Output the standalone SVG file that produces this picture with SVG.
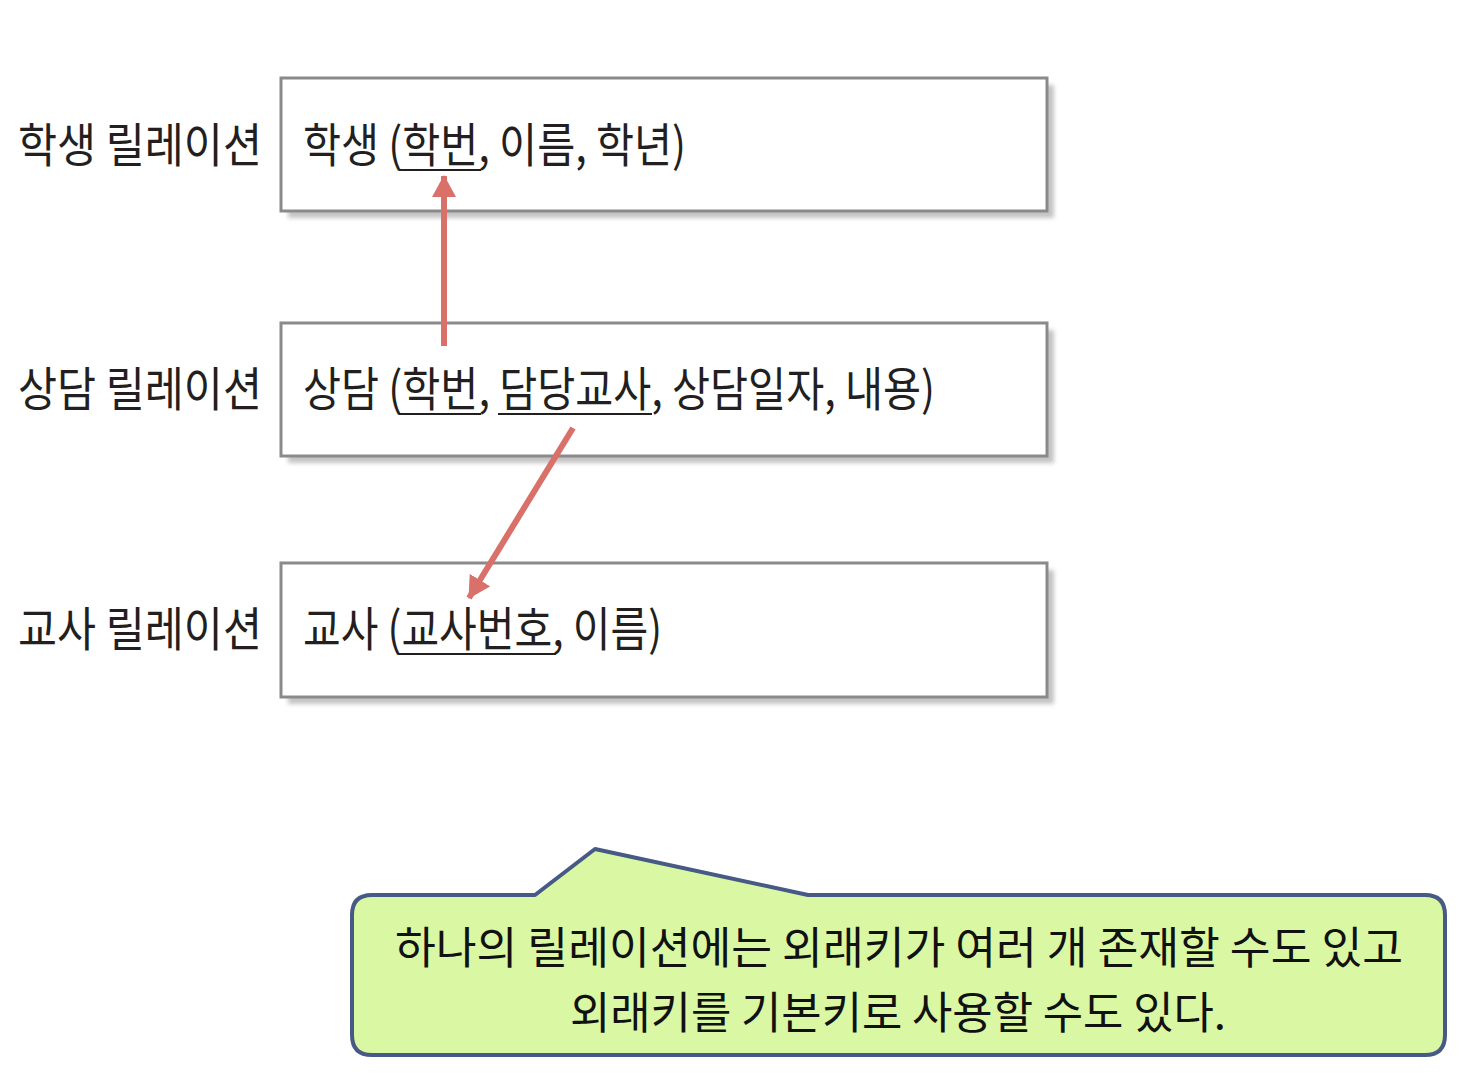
<svg xmlns="http://www.w3.org/2000/svg" width="1476" height="1090" viewBox="0 0 1476 1090">
<style>
.lbl{font-family:"Noto Sans CJK KR","Noto Sans",sans-serif;font-size:47px;fill:#231f20}
.box{fill:#fff;stroke:#8a8a8a;stroke-width:3}
.shadow{fill:#c4c4c4}
.ul{stroke:#231f20;stroke-width:2}
.conn{stroke:#d9706a;stroke-width:6;fill:none}
.note{font-family:"Noto Sans CJK KR","Noto Sans",sans-serif;font-size:44px;fill:#111}
</style>
<defs>
<marker id="ah" viewBox="0 0 22 24" refX="21" refY="12" markerWidth="22" markerHeight="24" orient="auto" markerUnits="userSpaceOnUse">
<path d="M0,0 L22,12 L0,24 z" fill="#d9706a"/>
</marker>
<filter id="blur" x="-5%" y="-10%" width="110%" height="120%"><feGaussianBlur stdDeviation="2"/></filter>
</defs>
<rect width="1476" height="1090" fill="#fff"/>

<g id="student">
<text class="lbl" x="18" y="162" textLength="244" lengthAdjust="spacingAndGlyphs">학생 릴레이션</text>
<rect class="shadow" x="288" y="85" width="766" height="133" filter="url(#blur)"/>
<rect class="box" x="281" y="78" width="766" height="133"/>
<text class="lbl" x="303" y="162" textLength="383" lengthAdjust="spacingAndGlyphs">학생 (학번, 이름, 학년)</text>
<line class="ul" x1="399" y1="170" x2="481" y2="170"/>
</g>

<g id="counsel">
<text class="lbl" x="18" y="406" textLength="244" lengthAdjust="spacingAndGlyphs">상담 릴레이션</text>
<rect class="shadow" x="288" y="330" width="766" height="133" filter="url(#blur)"/>
<rect class="box" x="281" y="323" width="766" height="133"/>
<text class="lbl" x="303" y="406" textLength="632" lengthAdjust="spacingAndGlyphs">상담 (학번, 담당교사, 상담일자, 내용)</text>
<line class="ul" x1="399" y1="414" x2="481" y2="414"/>
<line class="ul" x1="498" y1="414" x2="652" y2="414"/>
</g>

<g id="teacher">
<text class="lbl" x="18" y="646" textLength="244" lengthAdjust="spacingAndGlyphs">교사 릴레이션</text>
<rect class="shadow" x="288" y="570" width="766" height="134" filter="url(#blur)"/>
<rect class="box" x="281" y="563" width="766" height="134"/>
<text class="lbl" x="303" y="646" textLength="359" lengthAdjust="spacingAndGlyphs">교사 (교사번호, 이름)</text>
<line class="ul" x1="398" y1="654" x2="556" y2="654"/>
</g>

<g id="connectors">
<line class="conn" x1="444" y1="346" x2="444" y2="176" marker-end="url(#ah)"/>
<line class="conn" x1="573" y1="428" x2="469" y2="598" marker-end="url(#ah)"/>
</g>

<g id="callout">
<path d="M372,895 L535,895 L595,849 L808,895 L1425,895 Q1445,895 1445,915 L1445,1035 Q1445,1055 1425,1055 L372,1055 Q352,1055 352,1035 L352,915 Q352,895 372,895 Z" fill="#daf7a3" stroke="#465a85" stroke-width="4" stroke-linejoin="round"/>
<text class="note" x="899" y="964" text-anchor="middle" textLength="1008" lengthAdjust="spacingAndGlyphs">하나의 릴레이션에는 외래키가 여러 개 존재할 수도 있고</text>
<text class="note" x="898" y="1029" text-anchor="middle" textLength="656" lengthAdjust="spacingAndGlyphs">외래키를 기본키로 사용할 수도 있다.</text>
</g>
</svg>
